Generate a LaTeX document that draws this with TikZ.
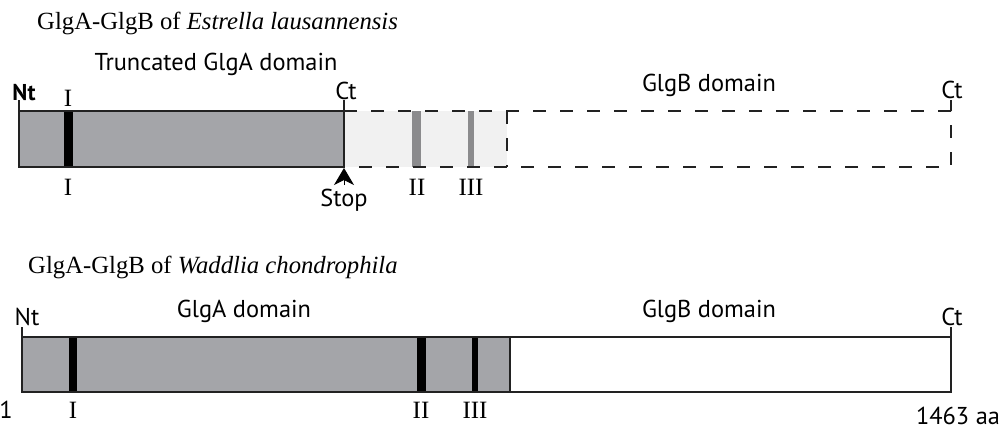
\documentclass[tikz,border=0pt]{standalone}
\usepackage{fontspec}
\setmainfont{Liberation Serif}
\setsansfont{PT Sans}
\usetikzlibrary{arrows.meta}
\definecolor{domgray}{HTML}{A4A5A9}
\definecolor{lightfill}{HTML}{F1F1F1}
\definecolor{motifgray}{HTML}{8B8B8D}
\definecolor{edge}{HTML}{222222}
\tikzset{
  x=1bp, y=-1bp,
  lbl/.style={font=\sffamily\fontsize{24.5}{24.5}\selectfont, inner sep=0pt},
  rom/.style={font=\rmfamily\fontsize{25}{25}\selectfont, inner sep=0pt},
  ttl/.style={font=\rmfamily\fontsize{24.8}{24.8}\selectfont, inner sep=0pt, anchor=west},
  solidbar/.style={draw=edge, line width=2bp},
  dashbar/.style={draw=edge, line width=2bp, dash pattern=on 13bp off 14bp},
  tick/.style={draw=edge, line width=2bp},
  motif/.style={fill=black},
}
\begin{document}
\begin{tikzpicture}
\useasboundingbox (0,0) rectangle (1006,430);

% ---------- Estrella lausannensis ----------
\node[ttl] (t1) at (37,23) {GlgA-GlgB of \textit{Estrella lausannensis}};
\node[lbl] (trunc) at (216,64) {Truncated GlgA domain};
\node[lbl] (glgb1) at (709,85) {GlgB domain};

% truncated GlgB part (not expressed)
\fill[lightfill] (344,111) rectangle (507,167);
\fill[motifgray] (412,111) rectangle (421,167);
\fill[motifgray] (468,111) rectangle (474,167);
\draw[dashbar] (344,111) -- (951,111) -- (951,167) -- (344,167);
\draw[dashbar] (507,111) -- (507,167);

% truncated GlgA domain
\fill[domgray] (19,111) rectangle (344,167);
\fill[motif] (64,111) rectangle (73,167);
\draw[solidbar] (19,111) rectangle (344,167);

% termini ticks
\coordinate (nt1) at (19,100);
\coordinate (ct1) at (344,100);
\coordinate (ct1b) at (951,100);
\draw[tick] (nt1) -- (19,111);
\draw[tick] (ct1) -- (344,111);
\draw[tick] (ct1b) -- (951,111);
\node[lbl, font=\sffamily\bfseries\fontsize{23}{23}\selectfont] (ntl1) at (24,93) {Nt};
\node[lbl] (ctl1) at (346,91) {Ct};
\node[lbl] (ctl1b) at (952,90) {Ct};

\node[rom] (m1a) at (68,98) {I};
\node[rom] (m1b) at (68,187) {I};
\node[rom] (m2) at (417,187) {II};
\node[rom] (m3) at (471,187) {III};

% stop codon
\node[lbl] (stop) at (344,200) {Stop};
\coordinate (stoptip) at (344,168);
\draw[-{Stealth[length=17bp,width=20bp,inset=5bp]}, line width=1bp] (344,185) -- (stoptip);

% ---------- Waddlia chondrophila ----------
\node[ttl] (t2) at (28,267) {GlgA-GlgB of \textit{Waddlia chondrophila}};
\node[lbl] (glga2) at (244,311) {GlgA domain};
\node[lbl] (glgb2) at (709,311) {GlgB domain};

\fill[domgray] (22,337) rectangle (510,392);
\fill[motif] (69,337) rectangle (77,392);
\fill[motif] (417,337) rectangle (426,392);
\fill[motif] (472,337) rectangle (478,392);
\draw[solidbar] (22,337) rectangle (951,392);
\draw[solidbar] (510,337) -- (510,392);

\coordinate (nt2) at (22,327);
\coordinate (ct2) at (951,327);
\draw[tick] (nt2) -- (22,337);
\draw[tick] (ct2) -- (951,337);
\node[lbl] (ntl2) at (27,317) {Nt};
\node[lbl] (ctl2) at (952,317) {Ct};

\node[lbl] (one) at (6,410) {1};
\node[rom] (w1) at (73,410) {I};
\node[rom] (w2) at (421,410) {II};
\node[rom] (w3) at (475,410) {III};
\node[lbl] (len) at (958,416) {1463 aa};
\end{tikzpicture}
\end{document}
